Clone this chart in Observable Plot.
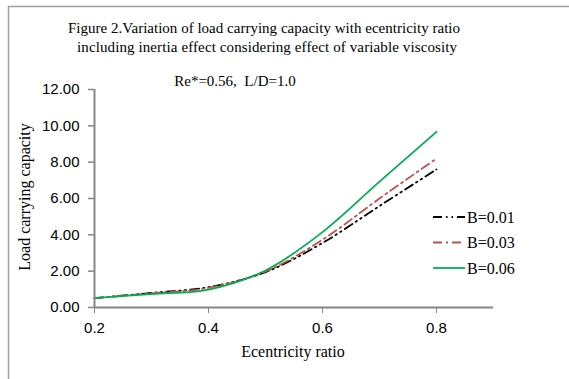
<!DOCTYPE html>
<html>
<head>
<meta charset="utf-8">
<script src="https://cdn.jsdelivr.net/npm/d3@7"></script>
<script src="https://cdn.jsdelivr.net/npm/@observablehq/plot@0.6"></script>
<style>
  html, body { margin: 0; padding: 0; background: #fff; }
  #chart { position: relative; width: 569px; height: 379px; overflow: hidden; }
</style>
</head>
<body>
<div id="chart"></div>
<script>
// ---- data ----
const ecc = [0.2, 0.3, 0.4, 0.5, 0.6, 0.7, 0.8];
const loadB001 = [0.52, 0.80, 1.12, 1.95, 3.55, 5.59, 7.60];
const loadB003 = [0.52, 0.78, 1.08, 1.98, 3.73, 6.00, 8.20];
const loadB006 = [0.52, 0.74, 0.98, 2.04, 4.15, 6.93, 9.67];
const seriesNames = ["B=0.01", "B=0.03", "B=0.06"];
const yTicks = [0, 2, 4, 6, 8, 10, 12];
const xTicks = [0.2, 0.4, 0.6, 0.8];
const titleLines = [
  "Figure 2.Variation of load carrying capacity with ecentricity ratio",
  "including inertia effect considering effect of variable viscosity"
];
const subtitle = "Re*=0.56,  L/D=1.0";
const xLabel = "Ecentricity ratio";
const yLabel = "Load carrying capacity";

const styles = {
  "B=0.01": {stroke: "#000000", dash: "9,4,1.5,4,1.5,4"},
  "B=0.03": {stroke: "#C0504D", dash: "9,4,2,4"},
  "B=0.06": {stroke: "#00B050", dash: null}
};

const allSeries = [loadB001, loadB003, loadB006];
const data = [];
allSeries.forEach((vals, i) => vals.forEach((v, j) => data.push({e: ecc[j], L: v, s: seriesNames[i]})));

const W = 569, H = 379;
const axisGray = "#868686";
const serif = "'Liberation Serif', 'Times New Roman', serif";
const sans = "'Liberation Sans', Arial, sans-serif";

const lineMarks = seriesNames.map(name => Plot.line(data.filter(d => d.s === name), {
  x: "e", y: "L", stroke: styles[name].stroke, strokeWidth: 1.8,
  strokeDasharray: styles[name].dash, curve: "catmull-rom"
}));

const svg = Plot.plot({
  width: W, height: H,
  marginLeft: 94, marginRight: 76, marginTop: 89, marginBottom: 72,
  style: {fontFamily: sans, fontSize: "15px", background: "transparent"},
  x: {domain: [0.2, 0.9]},
  y: {domain: [0, 12]},
  marks: [
    Plot.axisY({ticks: yTicks, tickFormat: d3.format(".2f"), tickSize: 6, tickPadding: 9,
      stroke: axisGray, strokeWidth: 1.5, fill: "#000", fontSize: 15, label: null}),
    Plot.axisX({ticks: xTicks, tickFormat: d => d.toFixed(1), tickSize: 6, tickPadding: 9,
      stroke: axisGray, strokeWidth: 1, fill: "#000", fontSize: 15, label: null}),
    ...lineMarks,
    Plot.ruleX([0.2], {y1: 0, y2: 12, stroke: axisGray, strokeWidth: 2}),
    Plot.ruleY([0], {x1: 0.2, x2: 0.9, stroke: axisGray, strokeWidth: 2})
  ]
});

const root = d3.select(svg);
// border of chart area
root.insert("rect", ":first-child").attr("x", 8.5).attr("y", 6.5).attr("width", 600).attr("height", 400)
  .attr("fill", "#fff").attr("stroke", "#a0a0a0").attr("stroke-width", 1.5);

const t = root.append("g").attr("font-family", serif).attr("fill", "#000").attr("text-anchor", "middle");
t.append("text").attr("x", 264).attr("y", 33).attr("font-size", 15).attr("textLength", 392).text(titleLines[0]);
t.append("text").attr("x", 267).attr("y", 52).attr("font-size", 15).attr("textLength", 380).text(titleLines[1]);
t.append("text").attr("x", 235).attr("y", 86).attr("font-size", 15).text(subtitle);
t.append("text").attr("x", 293).attr("y", 357).attr("font-size", 16).text(xLabel);
t.append("text").attr("transform", "translate(30,197) rotate(-90)").attr("font-size", 16).text(yLabel);

// legend
const lg = root.append("g").attr("text-anchor", "start");
seriesNames.forEach((name, i) => {
  const y = 217 + i * 25.5;
  lg.append("line").attr("x1", 433).attr("x2", 465).attr("y1", y).attr("y2", y)
    .attr("stroke", styles[name].stroke).attr("stroke-width", 1.8)
    .attr("stroke-dasharray", styles[name].dash);
  lg.append("text").attr("x", 467).attr("y", y + 5.5).attr("font-family", serif)
    .attr("font-size", 16).attr("fill", "#000").text(name);
});

document.getElementById("chart").appendChild(svg);
</script>
</body>
</html>
